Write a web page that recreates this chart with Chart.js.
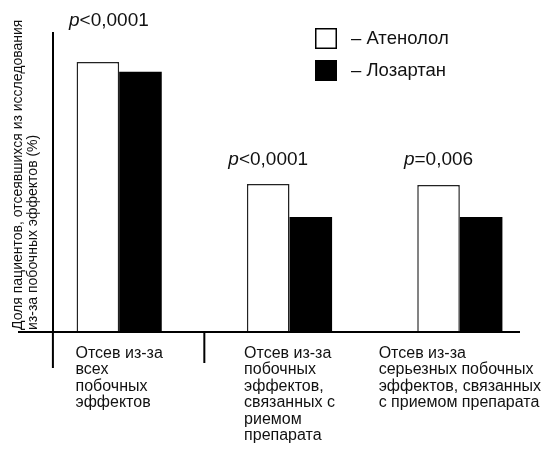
<!DOCTYPE html>
<html><head><meta charset="utf-8">
<script src="https://cdn.jsdelivr.net/npm/chart.js@4.4.1/dist/chart.umd.min.js"></script>
<style>html,body{margin:0;padding:0;background:#fff}#wrap{width:550px;height:451px;position:relative}</style>
</head><body><div id="wrap"><canvas id="c"></canvas></div>
<script>
const categories = [
  ['Отсев из-за', 'всех', 'побочных', 'эффектов'],
  ['Отсев из-за', 'побочных', 'эффектов,', 'связанных с', 'риемом', 'препарата'],
  ['Отсев из-за', 'серьезных побочных', 'эффектов, связанных', 'с приемом препарата']
];
const seriesNames = ['Атенолол', 'Лозартан'];
const atenolol = [90.3, 49.5, 49.2];
const losartan = [87.0, 38.5, 38.5];
const pValues = ['<0,0001', '<0,0001', '=0,006'];
const yTitle = ['Доля пациентов, отсеявшихся из исследования', 'из-за побочных эффектов (%)'];

const FONT = '"Liberation Sans", Arial, Helvetica, sans-serif';
const Y_AXIS_AT = -0.389;

const decor = {
  id: 'decor',
  afterDraw(chart) {
    const ctx = chart.ctx;
    const xs = chart.scales.x, ys = chart.scales.y;
    const ca = chart.chartArea;
    const base = ys.getPixelForValue(0);
    const yAxX = xs.getPixelForValue(Y_AXIS_AT);
    ctx.save();
    ctx.strokeStyle = '#000';
    ctx.lineWidth = 2;
    ctx.beginPath();
    ctx.moveTo(ca.left - 16, base); ctx.lineTo(ca.right - 25, base);
    ctx.moveTo(yAxX, base); ctx.lineTo(yAxX, base + 36);
    const sep = (xs.getPixelForValue(0) + xs.getPixelForValue(1)) / 2;
    ctx.moveTo(sep, base); ctx.lineTo(sep, base + 31);
    ctx.stroke();

    // category labels
    ctx.fillStyle = '#111';
    ctx.font = '16px ' + FONT;
    ctx.textAlign = 'left';
    ctx.textBaseline = 'alphabetic';
    chart.data.labels.forEach((lines, i) => {
      const w = Math.max(...lines.map(l => ctx.measureText(l).width));
      const left = xs.getPixelForValue(i) - w / 2;
      lines.forEach((l, k) => ctx.fillText(l, left, base + 26 + k * 16.4));
    });

    // p-values
    const meta = chart.getDatasetMeta(0);
    const pDx = [11, 0, 0];
    const pDy = [41, 24, 25];
    ctx.textBaseline = 'middle';
    pValues.forEach((t, i) => {
      const el = meta.data[i];
      ctx.font = 'italic 19px ' + FONT;
      const wp = ctx.measureText('p').width;
      ctx.font = '19px ' + FONT;
      const wr = ctx.measureText(t).width;
      const cx = el.x + pDx[i];
      const y = el.y - pDy[i];
      const x0 = cx - (wp + wr) / 2;
      ctx.font = 'italic 19px ' + FONT;
      ctx.fillText('p', x0, y);
      ctx.font = '19px ' + FONT;
      ctx.fillText(t, x0 + wp, y);
    });

    // legend
    const lx = 315, ly = [28, 60];
    chart.data.datasets.forEach((ds, i) => {
      ctx.fillStyle = ds.backgroundColor;
      ctx.fillRect(lx, ly[i], 22, 21);
      ctx.lineWidth = 1.5;
      ctx.strokeStyle = '#000';
      ctx.strokeRect(lx + 0.75, ly[i] + 0.75, 20.5, 19.5);
      ctx.fillStyle = '#111';
      ctx.font = '18.5px ' + FONT;
      ctx.textBaseline = 'middle';
      ctx.fillText('– ' + ds.label, 351, ly[i] + 10.5);
    });

    // y title
    ctx.save();
    ctx.translate(18, 330);
    ctx.rotate(-Math.PI / 2);
    ctx.font = '14px ' + FONT;
    ctx.fillStyle = '#111';
    ctx.textBaseline = 'middle';
    ctx.textAlign = 'left';
    ctx.fillText(yTitle[0], 0, 0);
    ctx.fillText(yTitle[1], 0, 15);
    ctx.restore();
    ctx.restore();
  }
};

new Chart(document.getElementById('c'), {
  type: 'bar',
  data: {
    labels: categories,
    datasets: [
      { label: seriesNames[0], data: atenolol, backgroundColor: '#ffffff', borderColor: '#222', borderWidth: 1.5 },
      { label: seriesNames[1], data: losartan, backgroundColor: '#000000', borderColor: '#000', borderWidth: 0 }
    ]
  },
  options: {
    responsive: true,
    maintainAspectRatio: false,
    animation: false,
    layout: { padding: { left: 34, right: 5, top: 33, bottom: 119 } },
    plugins: { legend: { display: false }, tooltip: { enabled: false } },
    datasets: { bar: { categoryPercentage: 0.5, barPercentage: 1.0 } },
    scales: {
      x: { display: false, offset: true },
      y: {
        position: { x: Y_AXIS_AT },
        min: 0, max: 100,
        ticks: { display: false },
        grid: { display: false },
        border: { display: true, color: '#000', width: 2 }
      }
    }
  },
  plugins: [decor]
});
</script>
</body></html>
